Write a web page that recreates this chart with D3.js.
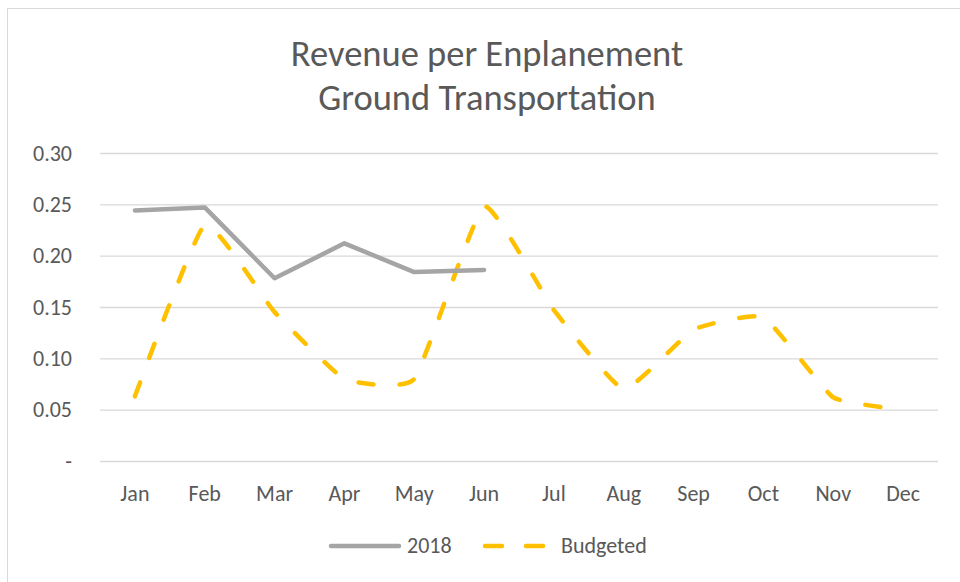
<!DOCTYPE html>
<html>
<head>
<meta charset="utf-8">
<script src="https://cdn.jsdelivr.net/npm/d3@7"></script>
<style>
  body { margin: 0; background: #fff; }
  svg text { font-family: Calibri, Carlito, Lato, "Open Sans", sans-serif; fill: #595959; }
</style>
</head>
<body>
<div id="chart"></div>
<script>
// chart values
const months = ['Jan', 'Feb', 'Mar', 'Apr', 'May', 'Jun', 'Jul', 'Aug', 'Sep', 'Oct', 'Nov', 'Dec'];
const actual2018 = [0.244, 0.247, 0.178, 0.212, 0.184, 0.186];
const budgeted = [0.063, 0.230, 0.145, 0.080, 0.080, 0.248, 0.147, 0.070, 0.128, 0.140, 0.062, 0.050];
const yTicks = [0, 0.05, 0.10, 0.15, 0.20, 0.25, 0.30];
const titleLines = ['Revenue per Enplanement', 'Ground Transportation'];

const width = 960, height = 582;
const margin = {top: 153, right: 22, bottom: 121, left: 100};
const fontFamily = 'Calibri, Carlito, Lato, sans-serif';

const svg = d3.select('#chart').append('svg')
    .attr('width', width)
    .attr('height', height);

// chart frame
svg.append('rect')
    .attr('x', 7.5).attr('y', 8.5)
    .attr('width', width).attr('height', height)
    .attr('fill', '#fff')
    .attr('stroke', '#D9D9D9');

const x = d3.scaleBand()
    .domain(months)
    .range([margin.left, width - margin.right]);

const y = d3.scaleLinear()
    .domain([0, 0.30])
    .range([height - margin.bottom, margin.top]);

// gridlines + y labels
const yAxis = d3.axisLeft(y)
    .tickValues(yTicks)
    .tickSize(-(width - margin.left - margin.right))
    .tickPadding(28)
    .tickFormat(d => d === 0 ? '-' : d3.format('.2f')(d));

svg.append('g')
    .attr('transform', `translate(${margin.left},0)`)
    .call(yAxis)
    .call(g => g.select('.domain').remove())
    .call(g => g.selectAll('line').attr('stroke', '#D9D9D9').attr('stroke-width', 1.3))
    .call(g => g.selectAll('text')
        .attr('font-size', 22)
        .attr('fill', '#595959')
        .attr('font-family', fontFamily));

// x labels
const xAxis = d3.axisBottom(x).tickSize(0).tickPadding(24);
svg.append('g')
    .attr('transform', `translate(0,${height - margin.bottom})`)
    .call(xAxis)
    .call(g => g.select('.domain').remove())
    .call(g => g.selectAll('text')
        .attr('font-size', 22)
        .attr('fill', '#595959')
        .attr('font-family', fontFamily));

const cx = d => x(d) + x.bandwidth() / 2;

// budgeted (smoothed dashed, Excel-like light smoothing)
const budgetLine = d3.line()
    .x((d, i) => cx(months[i]))
    .y(d => y(d))
    .curve(d3.curveCardinal.tension(0.6));

svg.append('path')
    .datum(budgeted)
    .attr('d', budgetLine)
    .attr('fill', 'none')
    .attr('stroke', '#FFC000')
    .attr('stroke-width', 4.5)
    .attr('stroke-linecap', 'round')
    .attr('stroke-dasharray', '15 26');

// 2018 actuals
const actualLine = d3.line()
    .x((d, i) => cx(months[i]))
    .y(d => y(d));

svg.append('path')
    .datum(actual2018)
    .attr('d', actualLine)
    .attr('fill', 'none')
    .attr('stroke', '#A5A5A5')
    .attr('stroke-width', 4.5)
    .attr('stroke-linecap', 'round')
    .attr('stroke-linejoin', 'round');

// title
svg.append('text')
    .attr('y', 66)
    .attr('text-anchor', 'middle')
    .attr('font-size', 36.5)
    .selectAll('tspan')
    .data(titleLines)
    .join('tspan')
    .attr('x', 487)
    .attr('dy', (d, i) => i === 0 ? 0 : 44)
    .text(d => d);

// legend
const legend = svg.append('g');
legend.append('line')
    .attr('x1', 331).attr('x2', 399)
    .attr('y1', 546).attr('y2', 546)
    .attr('stroke', '#A5A5A5')
    .attr('stroke-width', 4.5)
    .attr('stroke-linecap', 'round');
legend.append('text')
    .attr('x', 407).attr('y', 553)
    .attr('font-size', 22)
    .text('2018');
legend.append('line')
    .attr('x1', 485).attr('x2', 545)
    .attr('y1', 546).attr('y2', 546)
    .attr('stroke', '#FFC000')
    .attr('stroke-width', 4.5)
    .attr('stroke-linecap', 'round')
    .attr('stroke-dasharray', '17 24');
legend.append('text')
    .attr('x', 561).attr('y', 553)
    .attr('font-size', 22)
    .text('Budgeted');
</script>
</body>
</html>
